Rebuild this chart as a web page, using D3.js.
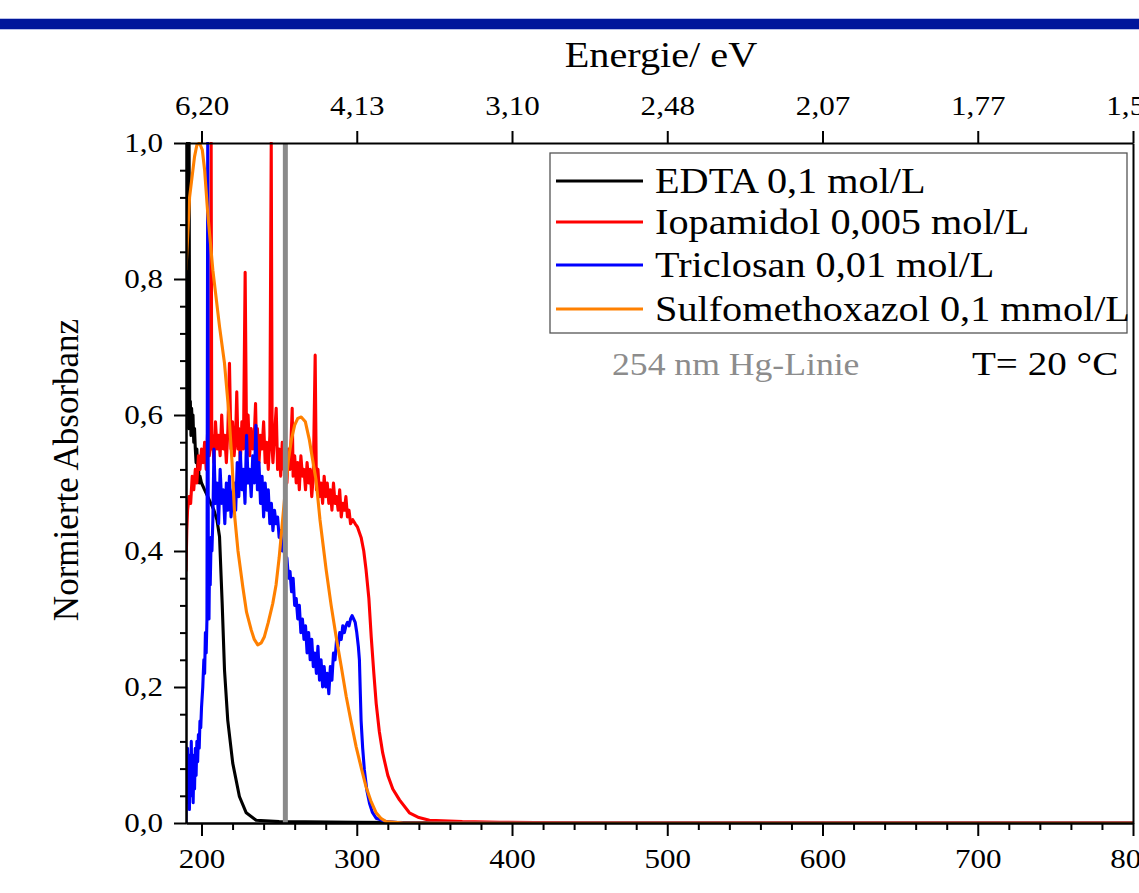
<!DOCTYPE html>
<html><head><meta charset="utf-8">
<script src="https://cdn.jsdelivr.net/npm/d3@7"></script>
<style>body{margin:0;background:#fff}svg{display:block}text{font-family:"Liberation Serif","Times New Roman",serif}</style>
</head><body><svg id="c" width="1139" height="893"></svg>
<script>
// ---------- data (wavelength nm, normalized absorbance) ----------
const edta = [[190,0.95],[190.3,0.62],[190.6,1.0],[191,0.6],[191.3,1.0],[191.7,0.58],[192,1.0],[192.4,0.6],[192.8,0.62],[193.2,0.57],[193.6,0.61],[194,0.59],[194.5,0.6],[195,0.56],[195.5,0.58],[196,0.55],[196.5,0.53],[197,0.55],[197.5,0.52],[198,0.53],[198.5,0.5],[199,0.51],[200,0.5],[202,0.49],[204,0.48],[206,0.47],[208,0.46],[210,0.445],[211.6,0.421],[213.3,0.323],[214.8,0.225],[216.9,0.151],[220.1,0.088],[224.4,0.039],[228.8,0.015],[235.2,0.004],[250,0.002],[300,0.001],[400,0],[800,0]];

const iopamidol = [[190,0.37],[190.5,0.43],[191,0.46],[192,0.48],[193,0.47],[194,0.51],[195,0.49],[196,0.52],[197,0.5],[198,0.54],[199,0.52],[200,0.55],[201,0.53],[202,0.56],[203,0.52],[204,0.58],[205,0.54],[205.8,0.56],[206.2,1.0],[206.6,0.55],[207,0.57],[208,0.53],[209,0.59],[210,0.55],[211,0.57],[212,0.54],[213,0.6],[214,0.55],[215,0.57],[216,0.53],[217,0.58],[218,0.676],[219,0.55],[220,0.59],[221,0.54],[222,0.57],[222.7,0.634],[223.5,0.55],[224,0.58],[225,0.53],[226,0.59],[227,0.55],[228.1,0.81],[229,0.56],[230,0.6],[231,0.54],[232,0.58],[233,0.55],[234,0.57],[234.8,0.617],[235.5,0.54],[236,0.58],[237,0.53],[238,0.57],[239,0.55],[240,0.59],[241,0.53],[242,0.56],[243,0.52],[244,0.57],[244.9,1.0],[245.5,0.55],[246,0.53],[247,0.57],[248.1,0.61],[249,0.52],[250,0.55],[251,0.51],[252,0.56],[253,0.52],[254,0.54],[255,0.5],[256,0.55],[257,0.52],[258.4,0.61],[259,0.51],[260,0.54],[261,0.5],[262,0.53],[263,0.49],[264,0.54],[265,0.51],[266,0.52],[267,0.49],[268,0.53],[269,0.5],[270,0.52],[271,0.48],[272,0.51],[273.2,0.688],[274,0.49],[275,0.52],[276,0.48],[277,0.5],[278,0.47],[279,0.51],[280,0.48],[281,0.5],[282,0.47],[283,0.49],[284,0.46],[285,0.5],[286,0.47],[287,0.48],[288,0.46],[289,0.49],[290,0.45],[291,0.47],[292,0.46],[293,0.48],[294,0.45],[295,0.46],[296,0.44],[297.4,0.446],[299,0.44],[300.5,0.435],[302.8,0.42],[304.5,0.4],[306,0.372],[307.8,0.33],[309.3,0.274],[311,0.22],[312.5,0.176],[314.5,0.135],[316.7,0.103],[320,0.07],[323.2,0.05],[327.5,0.034],[333.9,0.015],[340,0.008],[346.8,0.004],[368,0.002],[392,0.001],[450,0],[800,0]];

const triclosan = [[190,0.0],[190.3,0.1],[190.6,0.05],[191,0.11],[191.4,0.03],[191.8,0.09],[192.2,0.02],[192.6,0.1],[193,0.04],[193.4,0.12],[193.8,0.05],[194.2,0.1],[194.6,0.03],[195,0.08],[195.5,0.05],[196,0.11],[196.5,0.07],[197,0.12],[197.5,0.09],[198,0.13],[198.5,0.11],[199,0.15],[199.5,0.14],[200,0.17],[200.8,0.2],[201.5,0.24],[202,0.22],[202.5,0.28],[203,0.25],[203.5,0.3],[204,1.0],[204.4,0.32],[204.8,0.3],[205.1,0.37],[205.6,0.35],[206.2,0.42],[206.7,0.4],[207.3,0.446],[208,0.55],[209,0.47],[210,0.5],[211,0.44],[212,0.52],[213,0.47],[214,0.49],[215,0.44],[216,0.5],[217,0.46],[218,0.51],[219,0.45],[220,0.48],[221,0.5],[222,0.46],[223,0.53],[224,0.48],[225,0.545],[226,0.49],[227,0.52],[228,0.47],[229,0.57],[230,0.5],[231,0.52],[232,0.48],[233,0.54],[234,0.5],[235,0.585],[236,0.49],[237,0.53],[238,0.47],[239,0.51],[240,0.45],[241,0.5],[242,0.46],[243,0.49],[244,0.44],[245,0.47],[246,0.43],[247,0.46],[248,0.44],[249,0.45],[250,0.42],[251,0.43],[252,0.4],[253,0.41],[254,0.38],[255,0.39],[256,0.36],[257,0.37],[258,0.34],[259,0.36],[260,0.32],[261,0.33],[262,0.3],[263,0.32],[264,0.28],[265,0.3],[266,0.27],[267,0.29],[268,0.25],[269,0.28],[270,0.24],[271,0.27],[272,0.23],[273,0.25],[274,0.22],[275,0.26],[276,0.21],[277,0.24],[278,0.2],[279,0.23],[280,0.2],[281,0.22],[282,0.19],[283,0.23],[284,0.21],[285,0.25],[286,0.24],[287,0.27],[288,0.26],[289,0.28],[290,0.27],[291,0.29],[292,0.28],[293,0.29],[294,0.295],[295,0.29],[296,0.3],[297,0.305],[298,0.3],[299,0.295],[300,0.28],[301,0.26],[301.7,0.24],[302.3,0.19],[302.8,0.15],[303.8,0.11],[304.9,0.078],[306.5,0.048],[308.2,0.029],[310,0.016],[312.5,0.007],[318.9,0.002],[330,0],[800,0]];

const sulfomethoxazol = [[190,0.813],[192.3,0.92],[195.5,0.98],[197,0.997],[198.7,1.0],[200.5,0.99],[202,0.96],[204,0.897],[207.3,0.813],[211.6,0.73],[214.8,0.676],[217.6,0.603],[219.7,0.529],[221.4,0.45],[223.5,0.4],[226.6,0.347],[229,0.31],[232,0.284],[234,0.27],[236.2,0.262],[238.5,0.265],[240.5,0.274],[243,0.295],[245.9,0.323],[248,0.35],[250,0.39],[252,0.44],[254,0.49],[256,0.535],[258,0.565],[260,0.585],[262,0.595],[264.2,0.597],[266.9,0.59],[269.5,0.563],[271.5,0.535],[273.8,0.504],[276.3,0.446],[280.3,0.372],[283.5,0.32],[286.7,0.274],[290,0.23],[293.2,0.186],[296.5,0.147],[299.6,0.112],[303,0.08],[306,0.053],[309,0.033],[312.5,0.015],[315.5,0.007],[318.9,0.002],[330,0],[800,0]];

const seriesNames = ["EDTA 0,1 mol/L","Iopamidol 0,005 mol/L","Triclosan 0,01 mol/L","Sulfomethoxazol 0,1 mmol/L"];
const seriesColors = ["#000000","#ff0000","#0000ff","#ff8000"];
const hgLine = 254;
const xTicks = [200,300,400,500,600,700,800];
const xTickLabels = ["200","300","400","500","600","700","800"];
const eVTickLabels = ["6,20","4,13","3,10","2,48","2,07","1,77","1,55"];
const yTicks = [0,0.2,0.4,0.6,0.8,1.0];
const yTickLabels = ["0,0","0,2","0,4","0,6","0,8","1,0"];

// ---------- drawing ----------
const SX = 1.15; // horizontal text stretch of the original
const FONT = '"Liberation Serif","Times New Roman",serif';
const svg = d3.select("#c");
svg.append("rect").attr("x",0).attr("y",19).attr("width",1139).attr("height",10).attr("fill","#00169b");
svg.append("rect").attr("x",0).attr("y",18).attr("width",1139).attr("height",1).attr("fill","#b8c0e8");
svg.append("rect").attr("x",0).attr("y",29).attr("width",1139).attr("height",1).attr("fill","#b8c0e8");

const x = d3.scaleLinear().domain([190,800]).range([186,1133]);
const y = d3.scaleLinear().domain([0,1]).range([823,143]);

svg.append("defs").append("clipPath").attr("id","clip").append("rect")
  .attr("x",186).attr("y",142).attr("width",947).attr("height",681);

const line = d3.line().x(d=>x(d[0])).y(d=>y(d[1]));
const plot = svg.append("g").attr("clip-path","url(#clip)");
[edta, iopamidol, triclosan, sulfomethoxazol].forEach((s,i)=>{
  plot.append("path").datum(s).attr("d",line).attr("fill","none")
    .attr("stroke",seriesColors[i]).attr("stroke-width",3.1).attr("stroke-linejoin","round");
});
plot.append("line").attr("x1",x(hgLine)).attr("x2",x(hgLine)).attr("y1",143).attr("y2",823)
  .attr("stroke","#8a8a8a").attr("stroke-width",5);

function styleAxis(g){
  g.selectAll(".domain").attr("stroke","#000").attr("stroke-width",2);
  g.selectAll(".tick line").attr("stroke","#000").attr("stroke-width",2);
  g.selectAll("text").attr("font-family",FONT).attr("font-size",27).attr("fill","#000");
}

// bottom
const minorX = d3.range(200,801,20).filter(v=>v%100!==0);
svg.append("g").attr("transform","translate(0,823)")
  .call(d3.axisBottom(x).tickValues(minorX).tickSize(7).tickSizeOuter(0).tickFormat(""))
  .call(styleAxis);
const gb = svg.append("g").attr("transform","translate(0,823)")
  .call(d3.axisBottom(x).tickValues(xTicks).tickSize(13).tickSizeOuter(0).tickPadding(13)
    .tickFormat((d,i)=>xTickLabels[i]))
  .call(styleAxis);
gb.selectAll("text").attr("transform",`scale(${SX},1)`);

// top (energy)
const gt = svg.append("g").attr("transform","translate(0,143)")
  .call(d3.axisTop(x).tickValues(xTicks).tickSize(12).tickSizeOuter(0).tickPadding(16)
    .tickFormat((d,i)=>eVTickLabels[i]))
  .call(styleAxis);
gt.selectAll("text").attr("transform",`scale(${SX},1)`);

// left
const minorY = d3.range(0,1.0001,0.04).filter(v=>Math.abs(v*5-Math.round(v*5))>1e-6);
svg.append("g").attr("transform","translate(186,0)")
  .call(d3.axisLeft(y).tickValues(minorY).tickSize(6).tickSizeOuter(0).tickFormat(""))
  .call(styleAxis);
const gl = svg.append("g").attr("transform","translate(186,0)")
  .call(d3.axisLeft(y).tickValues(yTicks).tickSize(12).tickSizeOuter(0).tickPadding(11)
    .tickFormat((d,i)=>yTickLabels[i]))
  .call(styleAxis);
gl.selectAll("text").attr("x",-23/SX).attr("transform",`scale(${SX},1)`);

// right frame
svg.append("g").attr("transform","translate(1133,0)")
  .call(d3.axisRight(y).tickValues([]).tickSizeOuter(0))
  .call(styleAxis);

// titles
svg.append("text").attr("transform",`translate(661,67) scale(${SX},1)`).attr("text-anchor","middle")
  .attr("font-size",35).text("Energie/ eV");
svg.append("text").attr("transform","translate(78,470) rotate(-90)").attr("text-anchor","middle")
  .attr("font-size",35).text("Normierte Absorbanz");

// legend
const lg = svg.append("g");
lg.append("rect").attr("x",550).attr("y",153).attr("width",577).attr("height",180)
  .attr("fill","#fff").attr("stroke","#555").attr("stroke-width",1.3);
const legY = [181,222,265,309];
seriesNames.forEach((n,i)=>{
  lg.append("line").attr("x1",556).attr("x2",643).attr("y1",legY[i]).attr("y2",legY[i])
    .attr("stroke",seriesColors[i]).attr("stroke-width",3);
  lg.append("text").attr("transform",`translate(655,${legY[i]}) scale(${SX},1)`)
    .attr("dy","0.35em").attr("font-size",35).text(n);
});

svg.append("text").attr("transform",`translate(612,375) scale(${SX},1)`)
  .attr("font-size",31).attr("fill","#8c8c8c").text("254 nm Hg-Linie");
svg.append("text").attr("transform",`translate(972,375) scale(${SX},1)`)
  .attr("font-size",34).attr("fill","#000").text("T= 20 °C");
</script></body></html>
